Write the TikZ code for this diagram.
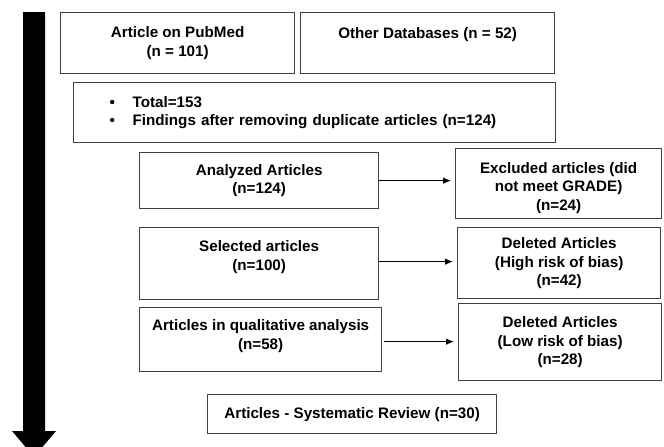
\documentclass[tikz,border=0pt]{standalone}
\usepackage{fontspec}
\setmainfont{Liberation Sans}
\usetikzlibrary{
    arrows.meta,
    positioning
}
\definecolor{boxgray}{RGB}{64,64,64}

\begin{document}
\begin{tikzpicture}[x=1pt, y=-1pt,
        every node/.style={font=\bfseries\fontsize{15.2}{18.5}\selectfont},
        stage/.style={draw=boxgray, line width=1.3pt, fill=white, align=center,
            inner sep=0pt, anchor=north west},
        link/.style={-{Latex[length=8pt,width=6.5pt]}, line width=1pt, shorten >=4pt}]

    \useasboundingbox (0,0) rectangle (664,447);
    \clip (0,0) rectangle (664,447);

    % time axis on the left
    \fill (23,12) -- (45,12) -- (45,431) -- (56,431) -- (34,457) -- (12,431) -- (23,431) -- cycle;

    % identification
    \node[stage, minimum width=234pt, minimum height=61pt] (pubmed) at (60,12)
        {Article on PubMed\\(n = 101)};
    \node[stage, minimum width=254pt, minimum height=61pt, text depth=21pt] (otherdb) at (300,12)
        {Other Databases (n = 52)};
    \node[stage, align=left, text width=410pt, inner xsep=36pt, minimum height=60pt] (total) at (73,82)
        {\makebox[23pt][l]{\textbullet}Total=153\\
         \makebox[23pt][l]{\textbullet}Findings after removing duplicate articles (n=124)};

    % screening
    \node[stage, minimum width=239pt, minimum height=56pt] (analyzed) at (139,152)
        {Analyzed Articles\\(n=124)};
    \node[stage, minimum width=206pt, minimum height=70pt, text height=56pt] (excluded) at (455,148)
        {Excluded articles (did\\not meet GRADE)\\(n=24)};
    \node[stage, minimum width=239pt, minimum height=72pt, text depth=16pt] (selected) at (139,227)
        {Selected articles\\(n=100)};
    \node[stage, minimum width=203pt, minimum height=71pt] (highbias) at (457,227)
        {Deleted Articles\\(High risk of bias)\\(n=42)};
    \node[stage, minimum width=242pt, minimum height=64pt, text depth=10pt] (qualitative) at (139,307)
        {Articles in qualitative analysis\\(n=58)};
    \node[stage, minimum width=203pt, minimum height=77pt] (lowbias) at (458,303)
        {Deleted Articles\\(Low risk of bias)\\(n=28)};

    % included
    \node[stage, minimum width=289pt, minimum height=39pt] (review) at (207,394)
        {Articles - Systematic Review (n=30)};

    \draw[link] (analyzed.east) -- (analyzed.east -| excluded.west);
    \draw[link] ([yshift=2pt]selected.east) -- ([yshift=2pt]selected.east -| highbias.west);
    \draw[link] ([xshift=2pt,yshift=-2pt]qualitative.east) -- ([yshift=-2pt]qualitative.east -| lowbias.west);
\end{tikzpicture}
\end{document}
